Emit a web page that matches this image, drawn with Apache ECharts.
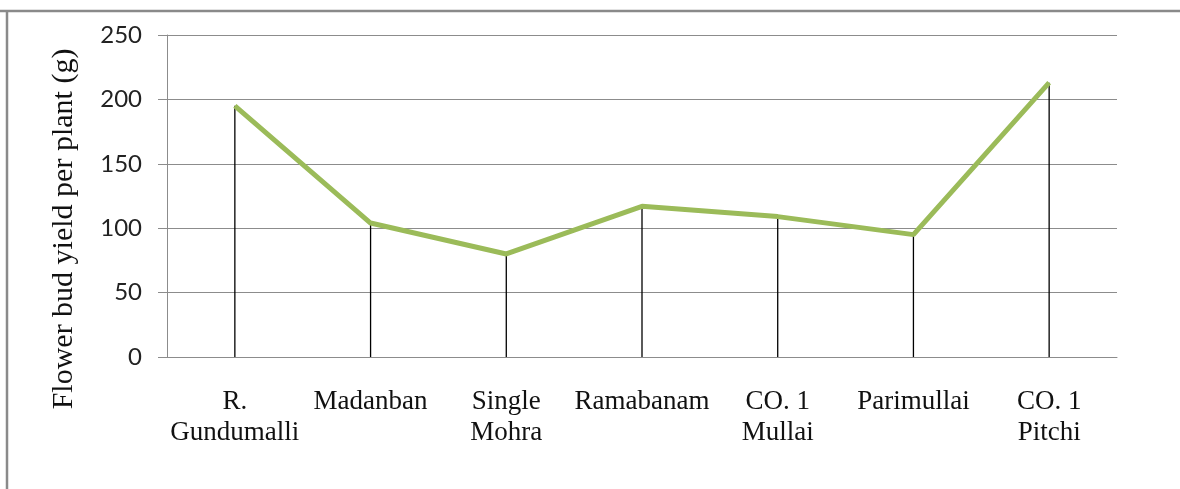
<!DOCTYPE html>
<html>
<head>
<meta charset="utf-8">
<script src="https://cdn.jsdelivr.net/npm/echarts@6/dist/echarts.min.js"></script>
<style>
  html, body { margin: 0; padding: 0; background: #fff; }
  #chart { width: 1180px; height: 489px; }
</style>
</head>
<body>
<div id="chart"></div>
<script>
const varieties = ['R.\nGundumalli', 'Madanban', 'Single\nMohra', 'Ramabanam', 'CO. 1\nMullai', 'Parimullai', 'CO. 1\nPitchi'];
const budYield = [195, 104, 80, 117, 109, 95, 213];
const yTicks = { min: 0, max: 250, interval: 50 };
const yTitle = 'Flower bud yield per plant (g)';

const chart = echarts.init(document.getElementById('chart'));

chart.setOption({
  animation: false,
  grid: { left: 167, right: 63, top: 35, bottom: 132 },
  xAxis: {
    type: 'category',
    data: varieties,
    axisLine: { lineStyle: { color: '#8c8c8c', width: 1 } },
    axisTick: { show: false },
    axisLabel: {
      interval: 0,
      margin: 29,
      fontFamily: 'Liberation Serif',
      fontSize: 27,
      lineHeight: 31,
      color: '#111'
    }
  },
  yAxis: {
    type: 'value',
    min: yTicks.min,
    max: yTicks.max,
    interval: yTicks.interval,
    axisLine: { show: true, lineStyle: { color: '#8c8c8c', width: 1 } },
    axisTick: { show: true, inside: false, length: 9, lineStyle: { color: '#8c8c8c', width: 1 } },
    axisLabel: {
      margin: 25,
      fontFamily: 'Lato',
      fontSize: 24,
      color: '#222'
    },
    splitLine: { lineStyle: { color: '#8c8c8c', width: 1 } }
  },
  series: [
    {
      // thin black drop lines from each point down to the axis
      type: 'bar',
      data: budYield,
      barWidth: 1.3,
      itemStyle: { color: '#000' },
      z: 1
    },
    {
      type: 'line',
      data: budYield,
      symbol: 'none',
      lineStyle: { color: '#9bbb59', width: 5 },
      z: 3
    }
  ],
  graphic: [
    {
      type: 'line',
      shape: { x1: 0, y1: 11, x2: 1180, y2: 11 },
      style: { stroke: '#8a8a8a', lineWidth: 2.5 }
    },
    {
      type: 'line',
      shape: { x1: 7, y1: 11, x2: 7, y2: 489 },
      style: { stroke: '#8a8a8a', lineWidth: 2.5 }
    },
    {
      type: 'text',
      x: 64,
      y: 229,
      rotation: Math.PI / 2,
      style: {
        text: yTitle,
        font: '30px "Liberation Serif"',
        fill: '#111',
        align: 'center',
        verticalAlign: 'middle'
      }
    }
  ]
});
</script>
</body>
</html>
